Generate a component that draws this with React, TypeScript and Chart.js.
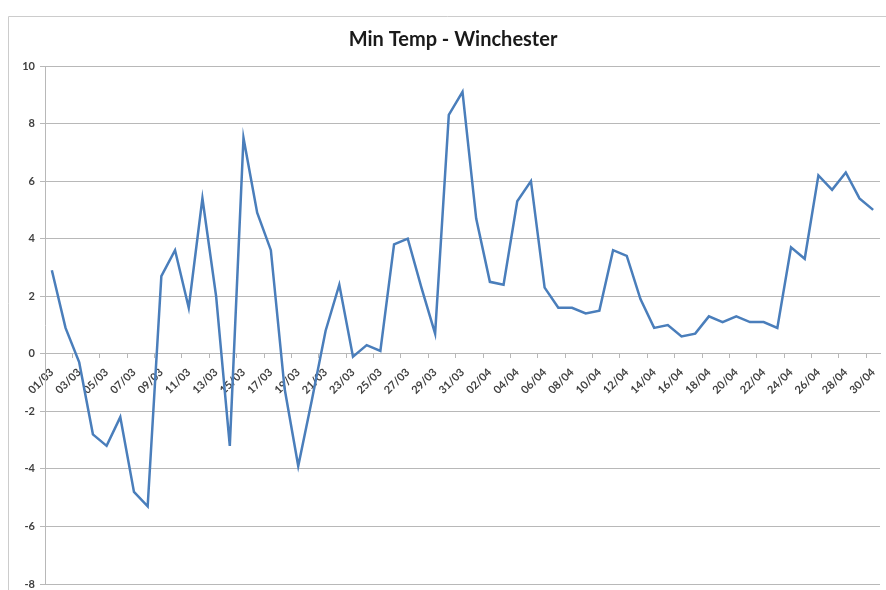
import { useEffect, useRef } from 'react';
import { Chart, registerables } from 'chart.js';

Chart.register(...registerables);

const chartTitle = 'Min Temp - Winchester';

const dateLabels = [
  '01/03', '02/03', '03/03', '04/03', '05/03', '06/03', '07/03', '08/03', '09/03', '10/03',
  '11/03', '12/03', '13/03', '14/03', '15/03', '16/03', '17/03', '18/03', '19/03', '20/03',
  '21/03', '22/03', '23/03', '24/03', '25/03', '26/03', '27/03', '28/03', '29/03', '30/03',
  '31/03',
  '01/04', '02/04', '03/04', '04/04', '05/04', '06/04', '07/04', '08/04', '09/04', '10/04',
  '11/04', '12/04', '13/04', '14/04', '15/04', '16/04', '17/04', '18/04', '19/04', '20/04',
  '21/04', '22/04', '23/04', '24/04', '25/04', '26/04', '27/04', '28/04', '29/04', '30/04',
];

const marchMinTemps = [
  2.9, 0.9, -0.3, -2.8, -3.2, -2.2, -4.8, -5.3, 2.7, 3.6,
  1.6, 5.4, 2.0, -3.2, 7.5, 4.9, 3.6, -1.2, -3.9, -1.6,
  0.8, 2.4, -0.1, 0.3, 0.1, 3.8, 4.0, 2.3, 0.7, 8.3,
  9.1,
];

const aprilMinTemps = [
  4.7, 2.5, 2.4, 5.3, 6.0, 2.3, 1.6, 1.6, 1.4, 1.5,
  3.6, 3.4, 1.9, 0.9, 1.0, 0.6, 0.7, 1.3, 1.1, 1.3,
  1.1, 1.1, 0.9, 3.7, 3.3, 6.2, 5.7, 6.3, 5.4, 5.0,
];

const minTemps = [...marchMinTemps, ...aprilMinTemps];

const yMin = -8;
const yMax = 10;
const yStep = 2;

const GRID = '#b8b8b8';
const TEXT = '#404040';

const framePlugin = {
  id: 'excelFrame',
  beforeDraw(chart: any) {
    const { ctx, width, height } = chart;
    ctx.save();
    ctx.fillStyle = '#ffffff';
    ctx.fillRect(0, 0, width, height);
    ctx.strokeStyle = '#cccccc';
    ctx.lineWidth = 1;
    ctx.beginPath();
    ctx.moveTo(8.5, height);
    ctx.lineTo(8.5, 16.5);
    ctx.lineTo(width, 16.5);
    ctx.stroke();
    ctx.restore();
  },
  afterDraw(chart: any) {
    const { ctx } = chart;
    ctx.save();
    ctx.font = 'bold 20px Lato';
    ctx.fillStyle = '#1a1a1a';
    ctx.textAlign = 'center';
    ctx.textBaseline = 'middle';
    ctx.fillText(chartTitle, 453, 40);
    ctx.restore();
  },
};

export default function App() {
  const canvasRef = useRef<HTMLCanvasElement | null>(null);

  useEffect(() => {
    if (!canvasRef.current) return;
    const chart = new Chart(canvasRef.current, {
      type: 'line',
      data: {
        labels: dateLabels,
        datasets: [
          {
            label: chartTitle,
            data: minTemps,
            borderColor: '#4a7ebb',
            borderWidth: 2.5,
            pointRadius: 0,
            pointHoverRadius: 0,
            tension: 0,
            fill: false,
          },
        ],
      },
      options: {
        animation: false,
        responsive: false,
        devicePixelRatio: 1,
        layout: { padding: { left: 0, right: 6, top: 66, bottom: 6 } },
        plugins: {
          legend: { display: false },
          title: { display: false },
          tooltip: { enabled: false },
        },
        scales: {
          x: {
            type: 'category',
            position: { y: 0 } as any,
            offset: true,
            afterFit: (scale: any) => {
              scale.paddingLeft = 0;
              scale.paddingRight = 0;
              scale.paddingTop = 0;
              scale.paddingBottom = 0;
            },
            border: { display: true, color: GRID, width: 1 },
            grid: {
              offset: true,
              drawOnChartArea: false,
              drawTicks: true,
              tickLength: 4,
              color: (c: any) => (c.index % 2 === 0 ? GRID : 'rgba(0,0,0,0)'),
            },
            ticks: {
              autoSkip: false,
              maxRotation: 45,
              minRotation: 45,
              padding: 8,
              color: TEXT,
              font: { family: 'Lato', size: 11, weight: 'bold' },
              callback: (_v: any, i: number) => (i % 2 === 0 ? dateLabels[i] : ''),
            },
          },
          y: {
            position: 'left',
            min: yMin,
            max: yMax,
            afterFit: (scale: any) => {
              scale.width = 45;
              scale.paddingTop = 0;
              scale.paddingBottom = 0;
            },
            border: { display: true, color: GRID, width: 1 },
            grid: {
              color: GRID,
              drawTicks: true,
              tickLength: 5,
            },
            ticks: {
              stepSize: yStep,
              padding: 5,
              color: TEXT,
              font: { family: 'Lato', size: 11, weight: 'bold' },
            },
          },
        },
      },
      plugins: [framePlugin],
    });
    return () => chart.destroy();
  }, []);

  return (
    <div style={{ position: 'absolute', left: 0, top: 0, width: 886, height: 590 }}>
      <canvas ref={canvasRef} width={886} height={590} style={{ width: 886, height: 590, display: 'block' }} />
    </div>
  );
}
